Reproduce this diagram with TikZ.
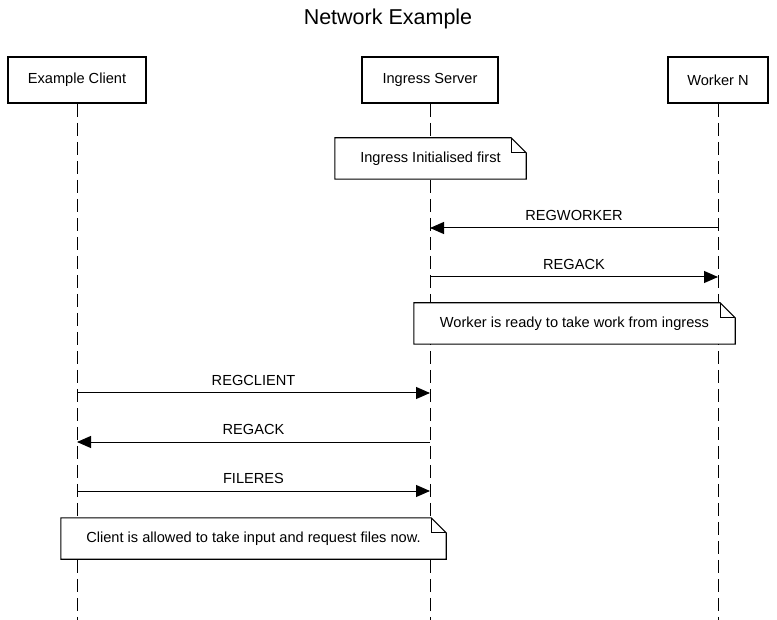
\documentclass[tikz,border=0pt]{standalone}
\usepackage{fontspec}
\setmainfont{Liberation Sans}
\usetikzlibrary{arrows.meta}
\begin{document}
\begin{tikzpicture}[x=1pt,y=-1pt,
  actor/.style={draw,line width=1.8pt,minimum height=46pt,inner sep=0pt,font=\fontsize{14.6}{16}\selectfont},
  lifeline/.style={line width=1pt,dash pattern=on 13pt off 6pt},
  msg/.style={line width=1pt,-{Triangle[length=14pt,width=12pt]}},
  msglabel/.style={font=\fontsize{14.6}{16}\selectfont,inner sep=0pt},
  notebox/.style={fill=white,inner sep=0pt,minimum height=41pt,font=\fontsize{14.6}{16}\selectfont},
  noteline/.style={line width=1.1pt,line join=miter}
]
\useasboundingbox[fill=white] (0,0) rectangle (777,620);
\node[font=\fontsize{21.5}{24}\selectfont] (title) at (388,19) {Network Example};

\node[actor,minimum width=138pt] (client) at (77,80) {Example Client};
\node[actor,minimum width=136pt] (ingress) at (430,80) {Ingress Server};
\node[actor,minimum width=100pt] (worker) at (718,80) {Worker N};

\coordinate (clientend) at (77,620);
\coordinate (ingressend) at (430,620);
\coordinate (workerend) at (718,620);
\draw[lifeline] (client.south) -- (clientend);
\draw[lifeline] (ingress.south) -- (ingressend);
\draw[lifeline] (worker.south) -- (workerend);

% message coordinates
\coordinate (w1) at (718,228); \coordinate (i1) at (430,228);
\coordinate (i2) at (430,277); \coordinate (w2) at (718,277);
\coordinate (c3) at (77,393);  \coordinate (i3) at (430,393);
\coordinate (i4) at (430,442); \coordinate (c4) at (77,442);
\coordinate (c5) at (77,491);  \coordinate (i5) at (430,491);

\draw[msg] (w1) -- (i1) node[msglabel,midway,yshift=13pt] (l1) {REGWORKER};
\draw[msg] (i2) -- (w2) node[msglabel,midway,yshift=13pt] (l2) {REGACK};
\draw[msg] (c3) -- (i3) node[msglabel,midway,yshift=13pt] (l3) {REGCLIENT};
\draw[msg] (i4) -- (c4) node[msglabel,midway,yshift=13pt] (l4) {REGACK};
\draw[msg] (c5) -- (i5) node[msglabel,midway,yshift=13pt] (l5) {FILERES};

% notes
\foreach \n/\cx/\cy/\w/\t in {n1/430.5/158.5/191/Ingress Initialised first,
                               n2/574.5/323.5/321/Worker is ready to take work from ingress,
                               n3/253.5/538.5/385/Client is allowed to take input and request files now.}{
  \node[notebox,minimum width=\w pt] (\n) at (\cx,\cy) {\t};
  \draw[noteline] (\n.north west) -- ([xshift=-15pt]\n.north east) -- ([yshift=-15pt]\n.north east)
      -- (\n.south east) -- (\n.south west) -- cycle;
  \draw[noteline] ([xshift=-15pt]\n.north east) -- ([xshift=-15pt,yshift=-15pt]\n.north east) -- ([yshift=-15pt]\n.north east);
}
\end{tikzpicture}
\end{document}
